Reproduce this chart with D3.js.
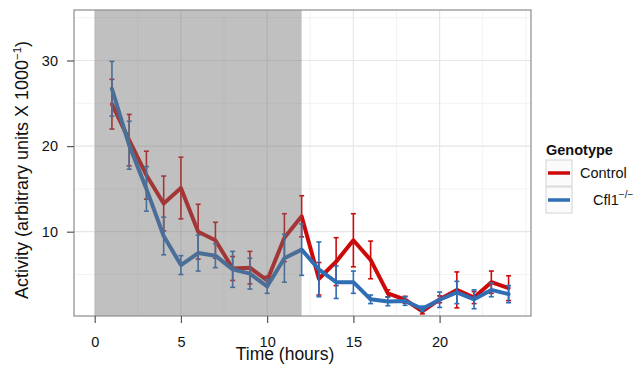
<!DOCTYPE html>
<html>
<head>
<meta charset="utf-8">
<script src="https://cdn.jsdelivr.net/npm/d3@7"></script>
<style>
  html, body { margin: 0; padding: 0; background: #fff; }
  text { font-family: "Liberation Sans", Arial, Helvetica, sans-serif; }
</style>
</head>
<body>
<svg id="chart" width="637" height="365"></svg>
<script>
// ---- data ----
const time = [1,2,3,4,5,6,7,8,9,10,11,12,13,14,15,16,17,18,19,20,21,22,23,24];
const controlMean = [24.9,20.7,16.6,13.3,15.1,10.0,9.0,5.7,5.8,4.3,9.3,11.8,4.5,6.5,9.0,6.7,2.8,2.05,0.7,2.1,3.2,2.3,4.1,3.4];
const controlErr  = [2.9,3.0,2.8,3.2,3.6,3.2,2.1,1.4,1.9,0.5,2.8,2.4,1.9,2.8,3.1,2.2,0.4,0.4,0.3,0.4,2.1,0.7,1.3,1.45];
const cflMean = [26.7,20.1,15.0,9.5,6.1,7.5,7.2,5.6,5.1,3.6,6.9,7.9,5.6,4.1,4.1,2.1,1.85,1.9,1.0,2.05,2.9,2.1,3.2,2.7];
const cflErr  = [3.2,2.8,2.6,2.2,1.1,2.1,1.4,2.1,1.8,0.8,2.8,3.0,3.2,1.9,1.3,0.5,0.5,0.5,0.3,0.9,1.3,1.1,0.8,1.0];
const xTicks = [0,5,10,15,20];
const xMinor = [2.5,7.5,12.5,17.5,22.5,25];
const yTicks = [10,20,30];
const yMinor = [5,15,25,35];
const darkPeriod = [0,12];
const seriesNames = ["Control","Cfl1"];
const seriesColors = ["#cc0a0a","#2f6db5"];

// ---- layout ----
const svg = d3.select("#chart");
const P = {left:74, right:531, top:10, bottom:316};
const x = d3.scaleLinear().domain([-1.2,25.3]).range([P.left,P.right]);
const y = d3.scaleLinear().domain([0.15,35.9]).range([P.bottom,P.top]);

const g = svg.append("g");
g.append("rect").attr("x",P.left).attr("y",P.top).attr("width",P.right-P.left).attr("height",P.bottom-P.top).attr("fill","#fff");

// grid
const grid = g.append("g");
grid.selectAll(".vmin").data(xMinor).join("line")
  .attr("x1",d=>x(d)).attr("x2",d=>x(d)).attr("y1",P.top).attr("y2",P.bottom)
  .attr("stroke","#f3f3f3").attr("stroke-width",1);
grid.selectAll(".hmin").data(yMinor).join("line")
  .attr("y1",d=>y(d)).attr("y2",d=>y(d)).attr("x1",P.left).attr("x2",P.right)
  .attr("stroke","#f3f3f3").attr("stroke-width",1);
grid.selectAll(".vmaj").data(xTicks).join("line")
  .attr("x1",d=>x(d)).attr("x2",d=>x(d)).attr("y1",P.top).attr("y2",P.bottom)
  .attr("stroke","#e6e6e6").attr("stroke-width",1.2);
grid.selectAll(".hmaj").data(yTicks).join("line")
  .attr("y1",d=>y(d)).attr("y2",d=>y(d)).attr("x1",P.left).attr("x2",P.right)
  .attr("stroke","#e6e6e6").attr("stroke-width",1.2);

// series
const series = [
  {name:seriesNames[0], color:seriesColors[0], mean:controlMean, err:controlErr},
  {name:seriesNames[1], color:seriesColors[1], mean:cflMean, err:cflErr}
];
const line = d3.line().x(d=>x(d.t)).y(d=>y(d.m));
series.forEach(s => {
  const pts = time.map((t,i)=>({t, m:s.mean[i], e:s.err[i]}));
  const eb = g.append("g");
  eb.selectAll("line.v").data(pts).join("line")
    .attr("x1",d=>x(d.t)).attr("x2",d=>x(d.t))
    .attr("y1",d=>y(d.m-d.e)).attr("y2",d=>y(d.m+d.e))
    .attr("stroke",s.color).attr("stroke-width",1.6);
  [-1,1].forEach(sign=>{
    eb.selectAll("line.c"+sign).data(pts).join("line")
      .attr("x1",d=>x(d.t)-2.5).attr("x2",d=>x(d.t)+2.5)
      .attr("y1",d=>y(d.m+sign*d.e)).attr("y2",d=>y(d.m+sign*d.e))
      .attr("stroke",s.color).attr("stroke-width",1.6);
  });
  g.append("path").datum(pts).attr("d",line)
    .attr("fill","none").attr("stroke",s.color).attr("stroke-width",4)
    .attr("stroke-linejoin","round").attr("stroke-linecap","round");
});

// dark period overlay
g.append("rect")
  .attr("x",x(darkPeriod[0])).attr("width",x(darkPeriod[1])-x(darkPeriod[0]))
  .attr("y",P.top).attr("height",P.bottom-P.top)
  .attr("fill","#707070").attr("fill-opacity",0.44);

// panel border
g.append("rect").attr("x",P.left).attr("y",P.top).attr("width",P.right-P.left).attr("height",P.bottom-P.top)
  .attr("fill","none").attr("stroke","#8c8c8c").attr("stroke-width",1.2);

// axes
const xAxis = d3.axisBottom(x).tickValues(xTicks).tickSize(7).tickPadding(14).tickFormat(d3.format("d"));
const xg = svg.append("g").attr("transform",`translate(0,${P.bottom})`).call(xAxis);
xg.select(".domain").remove();
xg.selectAll(".tick line").attr("stroke","#555").attr("stroke-width",1.2);
xg.selectAll(".tick text").attr("font-size",14.5).attr("fill","#111").attr("font-family","Liberation Sans, Arial, sans-serif");

const yAxis = d3.axisLeft(y).tickValues(yTicks).tickSize(7).tickPadding(9).tickFormat(d3.format("d"));
const yg = svg.append("g").attr("transform",`translate(${P.left},0)`).call(yAxis);
yg.select(".domain").remove();
yg.selectAll(".tick line").attr("stroke","#555").attr("stroke-width",1.2);
yg.selectAll(".tick text").attr("font-size",14.5).attr("fill","#111").attr("font-family","Liberation Sans, Arial, sans-serif");

// axis titles
svg.append("text").attr("x",285).attr("y",360).attr("text-anchor","middle")
  .attr("font-size",17.5).attr("fill","#111").text("Time (hours)");

const yt = svg.append("text").attr("transform","translate(28,170) rotate(-90)")
  .attr("text-anchor","middle").attr("font-size",18).attr("fill","#111");
yt.append("tspan").text("Activity (arbitrary units X 1000");
yt.append("tspan").attr("font-size",11.5).attr("dy",-7).text("\u22121");
yt.append("tspan").attr("dy",7).text(")");

// legend
const lg = svg.append("g");
lg.append("text").attr("x",546).attr("y",155).attr("font-size",14.5).attr("font-weight","bold").attr("fill","#111").text("Genotype");
const keyY = [160,187];
series.forEach((s,i)=>{
  lg.append("rect").attr("x",546).attr("y",keyY[i]).attr("width",26).attr("height",26)
    .attr("fill","#fbfbfb").attr("stroke","#d4d4d4").attr("stroke-width",1);
  lg.append("line").attr("x1",548).attr("x2",570).attr("y1",keyY[i]+13).attr("y2",keyY[i]+13)
    .attr("stroke",s.color).attr("stroke-width",3.5);
});
lg.append("text").attr("x",580).attr("y",178).attr("font-size",14.5).attr("fill","#111").text(seriesNames[0]);
const t2 = lg.append("text").attr("x",593).attr("y",205).attr("font-size",14.5).attr("fill","#111");
t2.append("tspan").text(seriesNames[1]);
t2.append("tspan").attr("font-size",10).attr("dy",-7).text("\u2212/\u2212");
</script>
</body>
</html>
